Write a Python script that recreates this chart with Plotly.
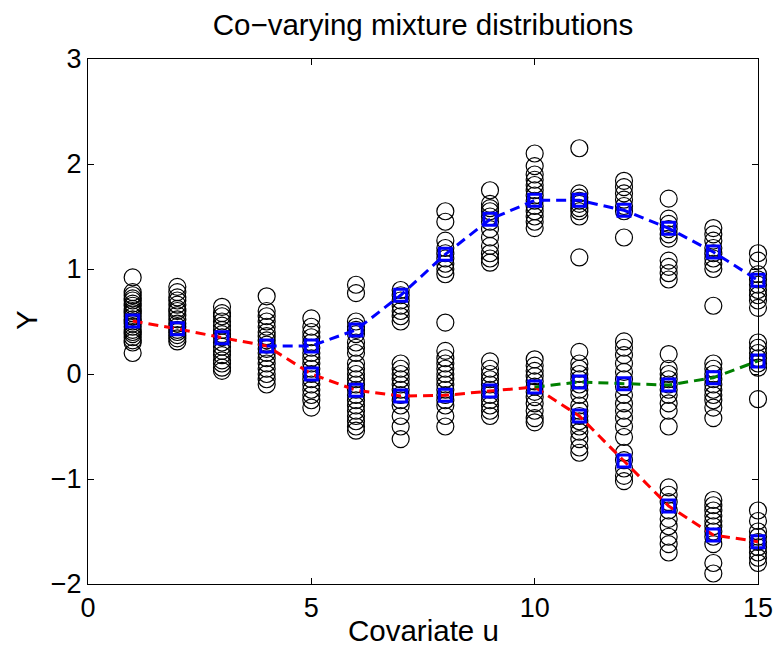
import plotly.graph_objects as go

# ---------------- data ----------------
covariate_u = list(range(1, 16))

# observed Y samples for each covariate value u = 1..15
observations = [
    [0.92, 0.78, 0.75, 0.72, 0.70, 0.67, 0.65, 0.62, 0.60, 0.58, 0.55, 0.52, 0.50, 0.48, 0.45, 0.42, 0.40, 0.38, 0.35, 0.32, 0.30, 0.20],
    [0.83, 0.78, 0.73, 0.70, 0.66, 0.62, 0.60, 0.56, 0.52, 0.48, 0.45, 0.42, 0.40, 0.37, 0.34, 0.31],
    [0.64, 0.58, 0.55, 0.50, 0.46, 0.42, 0.38, 0.35, 0.30, 0.26, 0.22, 0.18, 0.13, 0.10, 0.06, 0.03],
    [0.74, 0.60, 0.55, 0.50, 0.45, 0.40, 0.36, 0.32, 0.28, 0.24, 0.20, 0.15, 0.10, 0.05, 0.00, -0.05, -0.10],
    [0.53, 0.45, 0.40, 0.35, 0.30, 0.25, 0.20, 0.15, 0.10, 0.05, 0.00, -0.05, -0.10, -0.15, -0.20, -0.25, -0.32],
    [0.85, 0.77, 0.50, 0.45, 0.42, 0.38, 0.30, 0.25, 0.20, 0.10, 0.05, 0.00, -0.05, -0.10, -0.15, -0.20, -0.25, -0.30, -0.35, -0.40, -0.45, -0.50, -0.54],
    [0.80, 0.75, 0.70, 0.65, 0.60, 0.55, 0.50, 0.10, 0.05, 0.00, -0.05, -0.10, -0.15, -0.20, -0.25, -0.30, -0.40, -0.50, -0.62],
    [1.55, 1.45, 1.27, 1.20, 1.15, 1.10, 1.05, 1.00, 0.95, 0.49, 0.22, 0.15, 0.10, 0.05, 0.00, -0.05, -0.10, -0.15, -0.20, -0.25, -0.30, -0.40, -0.50],
    [1.75, 1.62, 1.58, 1.55, 1.50, 1.45, 1.38, 1.30, 1.22, 1.15, 1.10, 1.06, 0.12, 0.05, 0.00, -0.05, -0.10, -0.15, -0.20, -0.25, -0.30, -0.35, -0.40],
    [2.10, 1.98, 1.90, 1.85, 1.80, 1.75, 1.70, 1.65, 1.60, 1.55, 1.50, 1.45, 1.39, 0.14, 0.08, 0.03, -0.02, -0.07, -0.12, -0.17, -0.22, -0.28, -0.35, -0.42, -0.46],
    [2.15, 1.72, 1.68, 1.65, 1.62, 1.58, 1.55, 1.50, 1.11, 0.21, 0.10, 0.05, 0.00, -0.05, -0.10, -0.15, -0.20, -0.30, -0.35, -0.40, -0.45, -0.50, -0.55, -0.62, -0.70, -0.75],
    [1.84, 1.78, 1.72, 1.66, 1.60, 1.55, 1.30, 0.31, 0.25, 0.18, 0.10, 0.02, -0.05, -0.12, -0.20, -0.28, -0.35, -0.42, -0.50, -0.60, -0.75, -0.82, -0.90, -0.97, -1.02],
    [1.67, 1.48, 1.43, 1.38, 1.33, 1.29, 1.08, 1.02, 0.96, 0.90, 0.19, 0.05, 0.00, -0.05, -0.10, -0.15, -0.20, -0.28, -0.35, -0.50, -1.08, -1.15, -1.22, -1.30, -1.38, -1.45, -1.55, -1.62, -1.70],
    [1.39, 1.33, 1.27, 1.20, 1.15, 1.10, 1.05, 1.00, 0.65, 0.10, 0.05, 0.00, -0.05, -0.10, -0.15, -0.20, -0.25, -0.32, -0.42, -1.20, -1.25, -1.30, -1.35, -1.40, -1.45, -1.50, -1.55, -1.62, -1.80, -1.90],
    [1.15, 1.08, 0.95, 0.90, 0.85, 0.80, 0.75, 0.70, 0.63, 0.30, 0.25, 0.20, 0.15, 0.10, 0.06, -0.24, -1.30, -1.40, -1.50, -1.55, -1.60, -1.65, -1.70, -1.75, -1.80],
]

# mixture component means
red_u = list(range(1, 16))
red_mean = [0.505, 0.43, 0.346, 0.267, 0.0, -0.155, -0.21, -0.203, -0.162, -0.124, -0.40, -0.829, -1.257, -1.533, -1.597]
blue_u = list(range(4, 16))
blue_mean = [0.267, 0.267, 0.42, 0.75, 1.14, 1.473, 1.654, 1.654, 1.559, 1.387, 1.162, 0.892]
green_u = list(range(10, 16))
green_mean = [-0.124, -0.076, -0.092, -0.105, -0.035, 0.124]

title_text = "Co\u2212varying mixture distributions"
x_label = "Covariate u"
y_label = "Y"

# ---------------- build ----------------
obs_x, obs_y = [], []
for u, ys in zip(covariate_u, observations):
    for v in ys:
        obs_x.append(u)
        obs_y.append(v)

# square markers at every component mean (deduplicated)
sq = {}
for us, ms in ((red_u, red_mean), (blue_u, blue_mean), (green_u, green_mean)):
    for u, m in zip(us, ms):
        sq[(u, round(m, 3))] = (u, m)
sq_x = [p[0] for p in sq.values()]
sq_y = [p[1] for p in sq.values()]

FONT = "Liberation Sans, Arial, Helvetica, sans-serif"

fig = go.Figure()
fig.add_trace(go.Scatter(
    x=obs_x, y=obs_y, mode="markers", cliponaxis=False,
    marker=dict(symbol="circle-open", size=17, color="black", line=dict(width=1.2, color="black")),
    hoverinfo="skip", showlegend=False))

dash = "10px,6px"
fig.add_trace(go.Scatter(x=red_u, y=red_mean, mode="lines", cliponaxis=False,
                         line=dict(color="#FF0000", width=3, dash=dash), showlegend=False))
fig.add_trace(go.Scatter(x=blue_u, y=blue_mean, mode="lines", cliponaxis=False,
                         line=dict(color="#0000FF", width=3, dash=dash), showlegend=False))
fig.add_trace(go.Scatter(x=green_u, y=green_mean, mode="lines", cliponaxis=False,
                         line=dict(color="#008000", width=3, dash=dash), showlegend=False))
fig.add_trace(go.Scatter(
    x=sq_x, y=sq_y, mode="markers", cliponaxis=False,
    marker=dict(symbol="square-open", size=12, color="#0000FF", line=dict(width=3, color="#0000FF")),
    showlegend=False))

axis_common = dict(
    showline=True, linecolor="black", linewidth=1, mirror="ticks",
    ticks="inside", ticklen=6, tickwidth=1, tickcolor="black",
    showgrid=False, zeroline=False, automargin=False,
    tickfont=dict(family=FONT, size=27, color="black"),
)

fig.update_layout(
    template="none",
    width=777, height=647, autosize=False,
    margin=dict(l=88, r=19, t=59, b=63, autoexpand=False),
    paper_bgcolor="white", plot_bgcolor="white",
    font=dict(family=FONT, color="black"),
    title=dict(text=title_text, x=423 / 777, xanchor="center",
               y=1 - 25 / 647, yanchor="middle", yref="container",
               font=dict(family=FONT, size=29.5, color="black")),
    xaxis=dict(range=[0, 15], tickvals=[0, 5, 10, 15], **axis_common),
    yaxis=dict(range=[-2, 3], tickvals=[-2, -1, 0, 1, 2, 3], **axis_common),
    annotations=[
        dict(text=x_label, xref="paper", yref="paper", x=0.5, y=(584 - 630) / 525,
             xanchor="center", yanchor="middle", showarrow=False,
             font=dict(family=FONT, size=29.5, color="black")),
        dict(text=y_label, xref="paper", yref="paper", x=(26 - 88) / 670, y=(584 - 320) / 525,
             xanchor="center", yanchor="middle", textangle=-90, showarrow=False,
             font=dict(family=FONT, size=29.5, color="black")),
    ],
)

fig.write_html("out.html")
